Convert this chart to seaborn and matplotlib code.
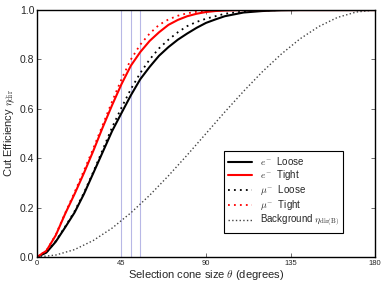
import numpy as np
import pandas as pd
import matplotlib
matplotlib.use("Agg")
import matplotlib.pyplot as plt
import seaborn as sns

# ---- data ----
theta = [0, 5, 10, 15, 20, 25, 30, 35, 40, 45, 50, 55, 60, 65, 70, 75, 80, 85,
         90, 95, 100, 110, 120, 130, 140, 150, 160, 170, 180]
e_loose = [0.0, 0.018, 0.062, 0.12, 0.18, 0.255, 0.34, 0.425, 0.51, 0.583, 0.655,
           0.72, 0.77, 0.815, 0.85, 0.88, 0.905, 0.928, 0.948, 0.962, 0.975, 0.99,
           0.996, 0.999, 1.0, 1.0, 1.0, 1.0, 1.0]
e_tight = [0.0, 0.025, 0.088, 0.175, 0.255, 0.34, 0.43, 0.525, 0.615, 0.70, 0.775,
           0.83, 0.875, 0.91, 0.94, 0.96, 0.975, 0.985, 0.992, 0.996, 0.998, 1.0,
           1.0, 1.0, 1.0, 1.0, 1.0, 1.0, 1.0]
mu_loose = [0.0, 0.019, 0.065, 0.123, 0.185, 0.26, 0.345, 0.435, 0.525, 0.605, 0.68,
            0.745, 0.80, 0.845, 0.88, 0.91, 0.935, 0.952, 0.965, 0.975, 0.985, 0.994,
            0.998, 1.0, 1.0, 1.0, 1.0, 1.0, 1.0]
mu_tight = [0.0, 0.026, 0.09, 0.178, 0.262, 0.35, 0.44, 0.535, 0.63, 0.72, 0.80,
            0.86, 0.905, 0.94, 0.962, 0.977, 0.987, 0.993, 0.997, 0.999, 1.0, 1.0,
            1.0, 1.0, 1.0, 1.0, 1.0, 1.0, 1.0]
bkg_theta = [0, 10, 20, 30, 40, 50, 60, 70, 80, 90, 100, 110, 120, 130, 140, 150,
             160, 170, 180]
bkg = [0.0, 0.008, 0.030, 0.067, 0.117, 0.179, 0.25, 0.329, 0.413, 0.5, 0.587,
       0.671, 0.75, 0.821, 0.883, 0.933, 0.970, 0.992, 1.0]
cone_cuts = [45, 50, 55]
xticks = [0, 45, 90, 135, 180]
yticks = [0.0, 0.2, 0.4, 0.6, 0.8, 1.0]

sns.set_style("ticks", {"xtick.direction": "in", "ytick.direction": "in"})
plt.rcParams['font.family'] = ['Liberation Sans', 'DejaVu Sans']
plt.rcParams['mathtext.fontset'] = 'cm'

fig = plt.figure(figsize=(3.87, 2.87), dpi=100)
ax = fig.add_axes([0.0956, 0.1045, 0.969 - 0.0956, 0.965 - 0.1045])

for c in cone_cuts:
    ax.axvline(c, color='#b8b8e6', lw=0.8, zorder=1)

sns.lineplot(x=theta, y=e_loose, ax=ax, color='black', lw=1.5,
             label=r'$e^{-}$  Loose')
sns.lineplot(x=theta, y=e_tight, ax=ax, color='red', lw=1.5,
             label=r'$e^{-}$  Tight')
sns.lineplot(x=theta, y=mu_loose, ax=ax, color='black', lw=1.3,
             dashes=False, linestyle=(0, (1, 2.3)),
             label=r'$\mu^{-}$  Loose')
sns.lineplot(x=theta, y=mu_tight, ax=ax, color='red', lw=1.3,
             dashes=False, linestyle=(0, (1, 2.3)),
             label=r'$\mu^{-}$  Tight')
sns.lineplot(x=bkg_theta, y=bkg, ax=ax, color='#444444', lw=1.0, linestyle=':',
             label=r'Background $\eta_{\rm dir(B)}$')

ax.set_xlim(0, 180)
ax.set_ylim(0, 1)
ax.set_xticks(xticks)
ax.set_xticklabels([str(t) for t in xticks], fontsize=5.5)
ax.set_yticks(yticks)
ax.set_yticklabels([f"{t:.1f}" for t in yticks], fontsize=7.5)
ax.tick_params(top=True, right=True, length=3, width=0.6, color='#555555', pad=2)
for s in ax.spines.values():
    s.set_linewidth(1.0)
    s.set_color('black')
ax.set_xlabel(r'Selection cone size $\theta$ (degrees)', fontsize=8, labelpad=1)
ax.set_ylabel(r'Cut Efficiency $\eta_{\rm dir}$', fontsize=8, labelpad=2)

leg = ax.legend(loc='lower right', bbox_to_anchor=(0.905, 0.097), fontsize=7,
                frameon=True, fancybox=False, framealpha=1, edgecolor='black',
                handlelength=2.5, borderpad=0.4, labelspacing=0.1,
                borderaxespad=0)
leg.get_frame().set_linewidth(0.8)

fig.savefig('out.png', dpi=100)
